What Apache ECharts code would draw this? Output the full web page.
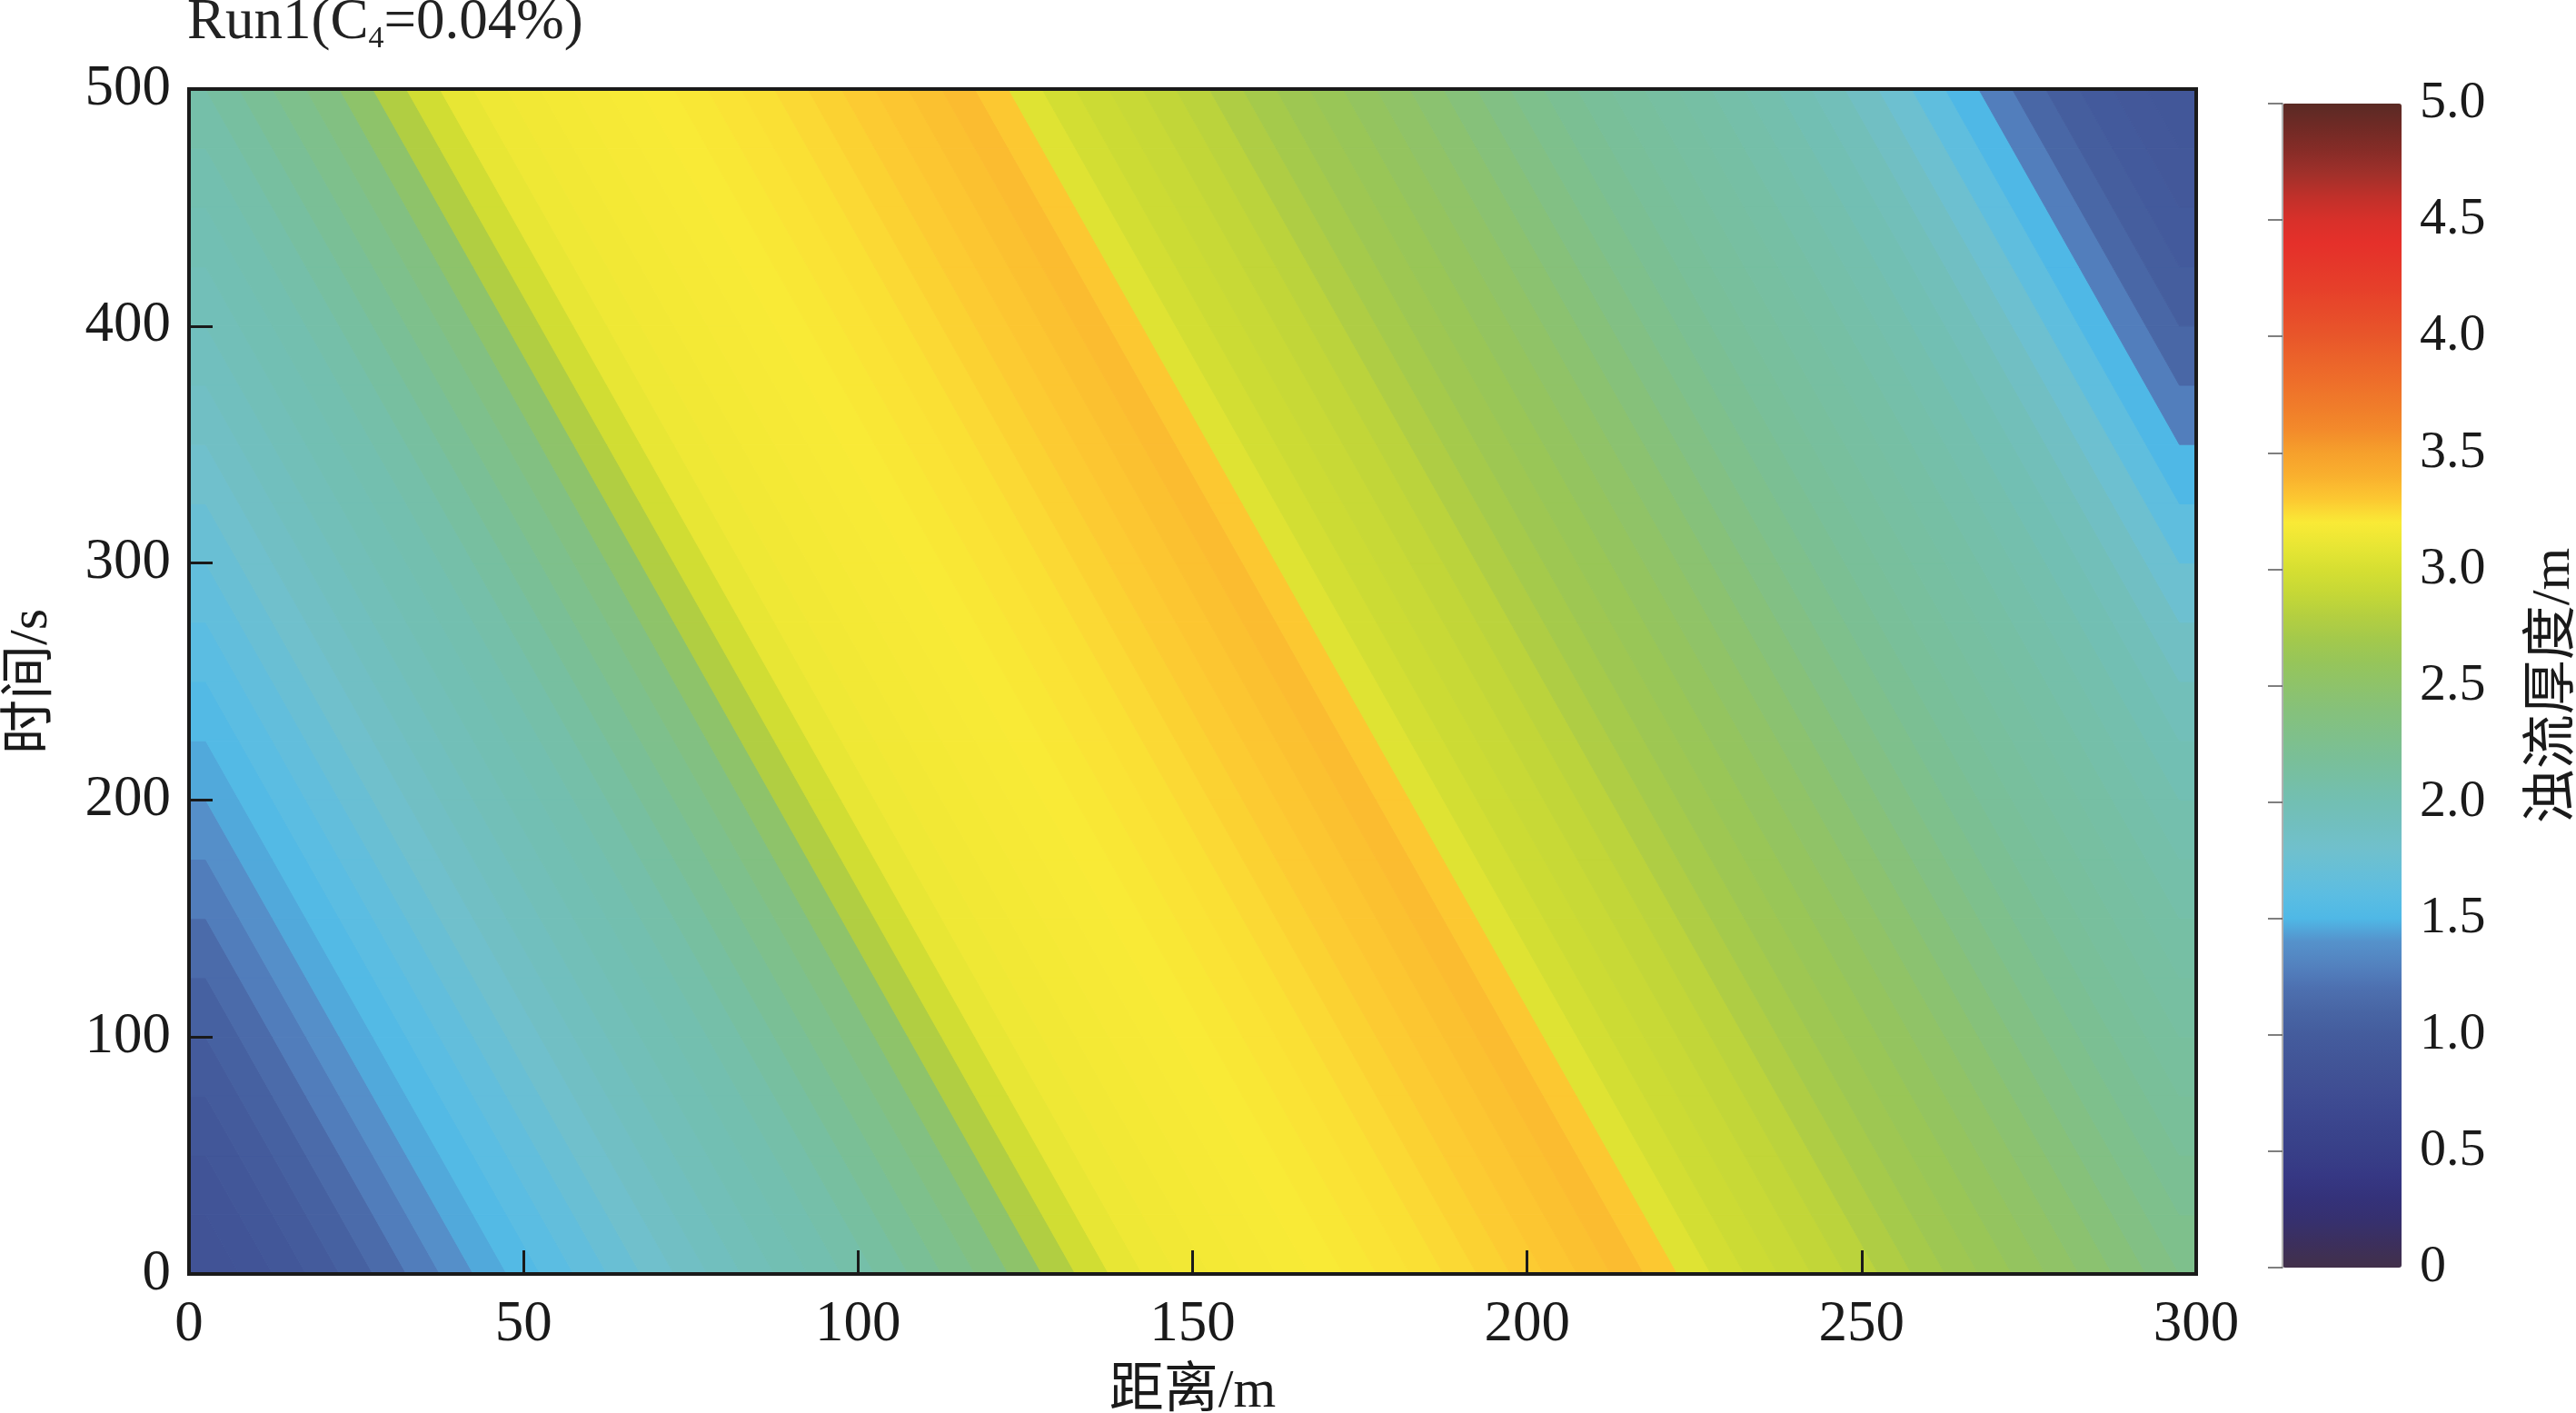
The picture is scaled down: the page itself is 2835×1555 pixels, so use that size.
<!DOCTYPE html>
<html>
<head>
<meta charset="utf-8">
<script src="https://cdn.jsdelivr.net/npm/echarts@6/dist/echarts.min.js"></script>
<style>
html,body{margin:0;padding:0;background:#fff;}
#chart{width:2835px;height:1555px;}
</style>
</head>
<body>
<div id="chart"></div>
<script>
// ---------- DATA ----------
// cell centres: distance (m) and time (s)
const xCells = [2.5,7.5,12.5,17.5,22.5,27.5,32.5,37.5,42.5,47.5,
  52.5,57.5,62.5,67.5,72.5,77.5,82.5,87.5,92.5,97.5,
  102.5,107.5,112.5,117.5,122.5,127.5,132.5,137.5,142.5,147.5,
  152.5,157.5,162.5,167.5,172.5,177.5,182.5,187.5,192.5,197.5,
  202.5,207.5,212.5,217.5,222.5,227.5,232.5,237.5,242.5,247.5,
  252.5,257.5,262.5,267.5,272.5,277.5,282.5,287.5,292.5,297.5];
const tCells = [12.5,37.5,62.5,87.5,112.5,137.5,162.5,187.5,212.5,237.5,
  262.5,287.5,312.5,337.5,362.5,387.5,412.5,437.5,462.5,487.5];

// turbidity-current thickness (m), one row per time band
const row_000_025 = [0.85,0.87,0.92,0.98,1.05,1.15,1.27,1.38,1.46,1.53,1.6,1.66,1.73,1.8,1.86,1.91,1.96,2.0,2.03,2.07,2.13,2.2,2.27,2.34,2.5,2.78,2.97,3.1,3.14,3.16,3.17,3.18,3.19,3.2,3.21,3.22,3.23,3.25,3.27,3.29,3.31,3.33,3.35,3.3,3.05,2.98,2.94,2.91,2.88,2.84,2.77,2.71,2.66,2.62,2.57,2.52,2.46,2.4,2.33,2.27];
const row_025_050 = [0.87,0.92,0.98,1.05,1.15,1.27,1.38,1.46,1.53,1.6,1.66,1.73,1.8,1.86,1.91,1.96,2.0,2.03,2.07,2.13,2.2,2.27,2.34,2.5,2.78,2.97,3.1,3.14,3.16,3.17,3.18,3.19,3.2,3.21,3.22,3.23,3.25,3.27,3.29,3.31,3.33,3.35,3.3,3.05,2.98,2.94,2.91,2.88,2.84,2.77,2.71,2.66,2.62,2.57,2.52,2.46,2.4,2.33,2.27,2.22];
const row_050_075 = [0.92,0.98,1.05,1.15,1.27,1.38,1.46,1.53,1.6,1.66,1.73,1.8,1.86,1.91,1.96,2.0,2.03,2.07,2.13,2.2,2.27,2.34,2.5,2.78,2.97,3.1,3.14,3.16,3.17,3.18,3.19,3.2,3.21,3.22,3.23,3.25,3.27,3.29,3.31,3.33,3.35,3.3,3.05,2.98,2.94,2.91,2.88,2.84,2.77,2.71,2.66,2.62,2.57,2.52,2.46,2.4,2.33,2.27,2.22,2.18];
const row_075_100 = [0.98,1.05,1.15,1.27,1.38,1.46,1.53,1.6,1.66,1.73,1.8,1.86,1.91,1.96,2.0,2.03,2.07,2.13,2.2,2.27,2.34,2.5,2.78,2.97,3.1,3.14,3.16,3.17,3.18,3.19,3.2,3.21,3.22,3.23,3.25,3.27,3.29,3.31,3.33,3.35,3.3,3.05,2.98,2.94,2.91,2.88,2.84,2.77,2.71,2.66,2.62,2.57,2.52,2.46,2.4,2.33,2.27,2.22,2.18,2.15];
const row_100_125 = [1.05,1.15,1.27,1.38,1.46,1.53,1.6,1.66,1.73,1.8,1.86,1.91,1.96,2.0,2.03,2.07,2.13,2.2,2.27,2.34,2.5,2.78,2.97,3.1,3.14,3.16,3.17,3.18,3.19,3.2,3.21,3.22,3.23,3.25,3.27,3.29,3.31,3.33,3.35,3.3,3.05,2.98,2.94,2.91,2.88,2.84,2.77,2.71,2.66,2.62,2.57,2.52,2.46,2.4,2.33,2.27,2.22,2.18,2.15,2.12];
const row_125_150 = [1.15,1.27,1.38,1.46,1.53,1.6,1.66,1.73,1.8,1.86,1.91,1.96,2.0,2.03,2.07,2.13,2.2,2.27,2.34,2.5,2.78,2.97,3.1,3.14,3.16,3.17,3.18,3.19,3.2,3.21,3.22,3.23,3.25,3.27,3.29,3.31,3.33,3.35,3.3,3.05,2.98,2.94,2.91,2.88,2.84,2.77,2.71,2.66,2.62,2.57,2.52,2.46,2.4,2.33,2.27,2.22,2.18,2.15,2.12,2.1];
const row_150_175 = [1.27,1.38,1.46,1.53,1.6,1.66,1.73,1.8,1.86,1.91,1.96,2.0,2.03,2.07,2.13,2.2,2.27,2.34,2.5,2.78,2.97,3.1,3.14,3.16,3.17,3.18,3.19,3.2,3.21,3.22,3.23,3.25,3.27,3.29,3.31,3.33,3.35,3.3,3.05,2.98,2.94,2.91,2.88,2.84,2.77,2.71,2.66,2.62,2.57,2.52,2.46,2.4,2.33,2.27,2.22,2.18,2.15,2.12,2.1,2.07];
const row_175_200 = [1.38,1.46,1.53,1.6,1.66,1.73,1.8,1.86,1.91,1.96,2.0,2.03,2.07,2.13,2.2,2.27,2.34,2.5,2.78,2.97,3.1,3.14,3.16,3.17,3.18,3.19,3.2,3.21,3.22,3.23,3.25,3.27,3.29,3.31,3.33,3.35,3.3,3.05,2.98,2.94,2.91,2.88,2.84,2.77,2.71,2.66,2.62,2.57,2.52,2.46,2.4,2.33,2.27,2.22,2.18,2.15,2.12,2.1,2.07,2.04];
const row_200_225 = [1.46,1.53,1.6,1.66,1.73,1.8,1.86,1.91,1.96,2.0,2.03,2.07,2.13,2.2,2.27,2.34,2.5,2.78,2.97,3.1,3.14,3.16,3.17,3.18,3.19,3.2,3.21,3.22,3.23,3.25,3.27,3.29,3.31,3.33,3.35,3.3,3.05,2.98,2.94,2.91,2.88,2.84,2.77,2.71,2.66,2.62,2.57,2.52,2.46,2.4,2.33,2.27,2.22,2.18,2.15,2.12,2.1,2.07,2.04,2.0];
const row_225_250 = [1.53,1.6,1.66,1.73,1.8,1.86,1.91,1.96,2.0,2.03,2.07,2.13,2.2,2.27,2.34,2.5,2.78,2.97,3.1,3.14,3.16,3.17,3.18,3.19,3.2,3.21,3.22,3.23,3.25,3.27,3.29,3.31,3.33,3.35,3.3,3.05,2.98,2.94,2.91,2.88,2.84,2.77,2.71,2.66,2.62,2.57,2.52,2.46,2.4,2.33,2.27,2.22,2.18,2.15,2.12,2.1,2.07,2.04,2.0,1.95];
const row_250_275 = [1.6,1.66,1.73,1.8,1.86,1.91,1.96,2.0,2.03,2.07,2.13,2.2,2.27,2.34,2.5,2.78,2.97,3.1,3.14,3.16,3.17,3.18,3.19,3.2,3.21,3.22,3.23,3.25,3.27,3.29,3.31,3.33,3.35,3.3,3.05,2.98,2.94,2.91,2.88,2.84,2.77,2.71,2.66,2.62,2.57,2.52,2.46,2.4,2.33,2.27,2.22,2.18,2.15,2.12,2.1,2.07,2.04,2.0,1.95,1.87];
const row_275_300 = [1.66,1.73,1.8,1.86,1.91,1.96,2.0,2.03,2.07,2.13,2.2,2.27,2.34,2.5,2.78,2.97,3.1,3.14,3.16,3.17,3.18,3.19,3.2,3.21,3.22,3.23,3.25,3.27,3.29,3.31,3.33,3.35,3.3,3.05,2.98,2.94,2.91,2.88,2.84,2.77,2.71,2.66,2.62,2.57,2.52,2.46,2.4,2.33,2.27,2.22,2.18,2.15,2.12,2.1,2.07,2.04,2.0,1.95,1.87,1.77];
const row_300_325 = [1.73,1.8,1.86,1.91,1.96,2.0,2.03,2.07,2.13,2.2,2.27,2.34,2.5,2.78,2.97,3.1,3.14,3.16,3.17,3.18,3.19,3.2,3.21,3.22,3.23,3.25,3.27,3.29,3.31,3.33,3.35,3.3,3.05,2.98,2.94,2.91,2.88,2.84,2.77,2.71,2.66,2.62,2.57,2.52,2.46,2.4,2.33,2.27,2.22,2.18,2.15,2.12,2.1,2.07,2.04,2.0,1.95,1.87,1.77,1.64];
const row_325_350 = [1.8,1.86,1.91,1.96,2.0,2.03,2.07,2.13,2.2,2.27,2.34,2.5,2.78,2.97,3.1,3.14,3.16,3.17,3.18,3.19,3.2,3.21,3.22,3.23,3.25,3.27,3.29,3.31,3.33,3.35,3.3,3.05,2.98,2.94,2.91,2.88,2.84,2.77,2.71,2.66,2.62,2.57,2.52,2.46,2.4,2.33,2.27,2.22,2.18,2.15,2.12,2.1,2.07,2.04,2.0,1.95,1.87,1.77,1.64,1.5];
const row_350_375 = [1.86,1.91,1.96,2.0,2.03,2.07,2.13,2.2,2.27,2.34,2.5,2.78,2.97,3.1,3.14,3.16,3.17,3.18,3.19,3.2,3.21,3.22,3.23,3.25,3.27,3.29,3.31,3.33,3.35,3.3,3.05,2.98,2.94,2.91,2.88,2.84,2.77,2.71,2.66,2.62,2.57,2.52,2.46,2.4,2.33,2.27,2.22,2.18,2.15,2.12,2.1,2.07,2.04,2.0,1.95,1.87,1.77,1.64,1.5,1.28];
const row_375_400 = [1.91,1.96,2.0,2.03,2.07,2.13,2.2,2.27,2.34,2.5,2.78,2.97,3.1,3.14,3.16,3.17,3.18,3.19,3.2,3.21,3.22,3.23,3.25,3.27,3.29,3.31,3.33,3.35,3.3,3.05,2.98,2.94,2.91,2.88,2.84,2.77,2.71,2.66,2.62,2.57,2.52,2.46,2.4,2.33,2.27,2.22,2.18,2.15,2.12,2.1,2.07,2.04,2.0,1.95,1.87,1.77,1.64,1.5,1.28,1.12];
const row_400_425 = [1.96,2.0,2.03,2.07,2.13,2.2,2.27,2.34,2.5,2.78,2.97,3.1,3.14,3.16,3.17,3.18,3.19,3.2,3.21,3.22,3.23,3.25,3.27,3.29,3.31,3.33,3.35,3.3,3.05,2.98,2.94,2.91,2.88,2.84,2.77,2.71,2.66,2.62,2.57,2.52,2.46,2.4,2.33,2.27,2.22,2.18,2.15,2.12,2.1,2.07,2.04,2.0,1.95,1.87,1.77,1.64,1.5,1.28,1.12,1.02];
const row_425_450 = [2.0,2.03,2.07,2.13,2.2,2.27,2.34,2.5,2.78,2.97,3.1,3.14,3.16,3.17,3.18,3.19,3.2,3.21,3.22,3.23,3.25,3.27,3.29,3.31,3.33,3.35,3.3,3.05,2.98,2.94,2.91,2.88,2.84,2.77,2.71,2.66,2.62,2.57,2.52,2.46,2.4,2.33,2.27,2.22,2.18,2.15,2.12,2.1,2.07,2.04,2.0,1.95,1.87,1.77,1.64,1.5,1.28,1.12,1.02,0.97];
const row_450_475 = [2.03,2.07,2.13,2.2,2.27,2.34,2.5,2.78,2.97,3.1,3.14,3.16,3.17,3.18,3.19,3.2,3.21,3.22,3.23,3.25,3.27,3.29,3.31,3.33,3.35,3.3,3.05,2.98,2.94,2.91,2.88,2.84,2.77,2.71,2.66,2.62,2.57,2.52,2.46,2.4,2.33,2.27,2.22,2.18,2.15,2.12,2.1,2.07,2.04,2.0,1.95,1.87,1.77,1.64,1.5,1.28,1.12,1.02,0.97,0.94];
const row_475_500 = [2.07,2.13,2.2,2.27,2.34,2.5,2.78,2.97,3.1,3.14,3.16,3.17,3.18,3.19,3.2,3.21,3.22,3.23,3.25,3.27,3.29,3.31,3.33,3.35,3.3,3.05,2.98,2.94,2.91,2.88,2.84,2.77,2.71,2.66,2.62,2.57,2.52,2.46,2.4,2.33,2.27,2.22,2.18,2.15,2.12,2.1,2.07,2.04,2.0,1.95,1.87,1.77,1.64,1.5,1.28,1.12,1.02,0.97,0.94,0.92];

const xTicks = [0, 50, 100, 150, 200, 250, 300];
const yTicks = [0, 100, 200, 300, 400, 500];
const cbTicks = [0, 0.5, 1.0, 1.5, 2.0, 2.5, 3.0, 3.5, 4.0, 4.5, 5.0];

// ---------- BUILD ----------
const rows = [row_000_025,row_025_050,row_050_075,row_075_100,row_100_125,row_125_150,row_150_175,row_175_200,
  row_200_225,row_225_250,row_250_275,row_275_300,row_300_325,row_325_350,row_350_375,row_375_400,
  row_400_425,row_425_450,row_450_475,row_475_500];
const cellData = [];
rows.forEach((r, k) => r.forEach((v, i) => cellData.push([xCells[i], tCells[k], v])));
const cellW = xCells[1] - xCells[0];
const cellH = tCells[1] - tCells[0];
const xMin = xTicks[0], xMax = xTicks[xTicks.length - 1];

const cmap = ['#42304a','#3c2f5c','#36306e','#34327a','#363884','#383f88','#3a448c','#3d4a91','#405094','#425698',
  '#445c9d','#4865a4','#4d70b0','#5382bf','#5592cb','#4fb8e6','#5bbde2','#66bfd8','#70c0cc','#71bfbf',
  '#72bfb3','#76bfa4','#7abf96','#80c088','#86c17a','#8ec36a','#96c55a','#a3c94c','#b4cf40','#c6d836',
  '#d6df32','#e8e634','#f9ea36','#fcc831','#f9b02e','#f6a02c','#f38a2b','#f07c2a','#ee6f2a','#eb632a',
  '#e8562a','#e74b2a','#e6402a','#e5382a','#e5302a','#d8302a','#c0302a','#a0302a','#862c27','#702a25','#5a2a24'];

const serif = "'Liberation Serif', 'Times New Roman', 'Noto Sans CJK SC', serif";
const ink = '#1a1a1a';

const chart = echarts.init(document.getElementById('chart'), null, {renderer: 'canvas'});
chart.setOption({
  animation: false,
  backgroundColor: '#ffffff',
  title: {
    text: '{a|Run1(C}{s|4}{a|=0.04%)}',
    left: 206, top: -10, padding: 0,
    textStyle: {
      fontWeight: 'normal',
      rich: {
        a: {fontFamily: serif, fontSize: 63, fontWeight: 'normal', lineHeight: 70, color: '#222'},
        s: {fontFamily: serif, fontSize: 34, fontWeight: 'normal', lineHeight: 32, verticalAlign: 'bottom', color: '#222'}
      }
    }
  },
  grid: [
    {left: 208, top: 98, width: 2209, height: 1304, show: true, borderColor: ink, borderWidth: 4,
     backgroundColor: 'transparent', z: 5, containLabel: false, outerBoundsMode: 'none'},
    {left: 2512, top: 114, width: 131, height: 1281, show: false, containLabel: false, outerBoundsMode: 'none'}
  ],
  xAxis: [
    {type: 'value', gridIndex: 0, min: xMin, max: xMax, interval: xTicks[1]-xTicks[0], z: 6,
     name: '距离/m', nameLocation: 'middle', nameGap: 100,
     nameTextStyle: {fontFamily: serif, fontSize: 60, color: ink},
     axisLine: {show: true, lineStyle: {color: ink, width: 4}},
     axisTick: {show: true, inside: true, length: 26, lineStyle: {color: ink, width: 3}},
     axisLabel: {fontFamily: serif, fontSize: 63, color: ink, margin: 25},
     splitLine: {show: false}},
    {type: 'value', gridIndex: 1, min: 0, max: 1, show: false}
  ],
  yAxis: [
    {type: 'value', gridIndex: 0, min: yTicks[0], max: yTicks[yTicks.length-1], interval: yTicks[1]-yTicks[0], z: 6,
     name: '时间/s', nameLocation: 'middle', nameGap: 143,
     nameTextStyle: {fontFamily: serif, fontSize: 60, color: ink},
     axisLine: {show: true, lineStyle: {color: ink, width: 4}},
     axisTick: {show: true, inside: true, length: 26, lineStyle: {color: ink, width: 3}},
     axisLabel: {fontFamily: serif, fontSize: 63, color: ink, margin: 20},
     splitLine: {show: false}},
    {type: 'value', gridIndex: 1, position: 'right', min: cbTicks[0], max: cbTicks[cbTicks.length-1], interval: cbTicks[1]-cbTicks[0], z: 10,
     name: '浊流厚度/m', nameLocation: 'middle', nameGap: 138, nameRotate: 90,
     nameTextStyle: {fontFamily: serif, fontSize: 60, color: ink},
     axisLine: {show: true, lineStyle: {color: '#b0b0b0', width: 2}},
     axisTick: {show: true, inside: true, length: 16, lineStyle: {color: '#555', width: 1.5}},
     axisLabel: {fontFamily: serif, fontSize: 58, color: ink, margin: 20,
       formatter: v => v === 0 ? '0' : v.toFixed(1)},
     splitLine: {show: false}}
  ],
  visualMap: {
    type: 'continuous', min: cbTicks[0], max: cbTicks[cbTicks.length-1], dimension: 2, seriesIndex: 0,
    show: true, calculable: false, hoverLink: false, orient: 'vertical',
    left: 2512, top: 114, itemWidth: 131, itemHeight: 1281, padding: 0, text: null,
    textStyle: {color: 'transparent'}, showLabel: false,
    inRange: {color: cmap}
  },
  series: [{
    type: 'custom',
    xAxisIndex: 0, yAxisIndex: 0,
    coordinateSystem: 'cartesian2d',
    clip: true, z: 2,
    encode: {x: 0, y: 1},
    data: cellData,
    renderItem: function (params, api) {
      const x = api.value(0), t = api.value(1);
      const t0 = t - cellH / 2, t1 = t + cellH / 2;
      // cells are sheared along the band direction (one cell per row)
      const sh = cellW / 2;
      let xl0 = x - cellW / 2 + sh, xr0 = x + cellW / 2 + sh;
      let xl1 = x - cellW / 2 - sh, xr1 = x + cellW / 2 - sh;
      if (x - cellW / 2 <= xMin) { xl0 = xMin; xl1 = xMin; }
      if (x + cellW / 2 >= xMax) { xr0 = xMax; xr1 = xMax; }
      xl0 = Math.max(xMin, Math.min(xMax, xl0)); xl1 = Math.max(xMin, Math.min(xMax, xl1));
      xr0 = Math.max(xMin, Math.min(xMax, xr0)); xr1 = Math.max(xMin, Math.min(xMax, xr1));
      const c = api.visual('color');
      return {
        type: 'polygon',
        shape: {points: [api.coord([xl0, t0]), api.coord([xr0, t0]), api.coord([xr1, t1]), api.coord([xl1, t1])]},
        style: {fill: c, stroke: c, lineWidth: 1}
      };
    }
  }]
});
</script>
</body>
</html>
